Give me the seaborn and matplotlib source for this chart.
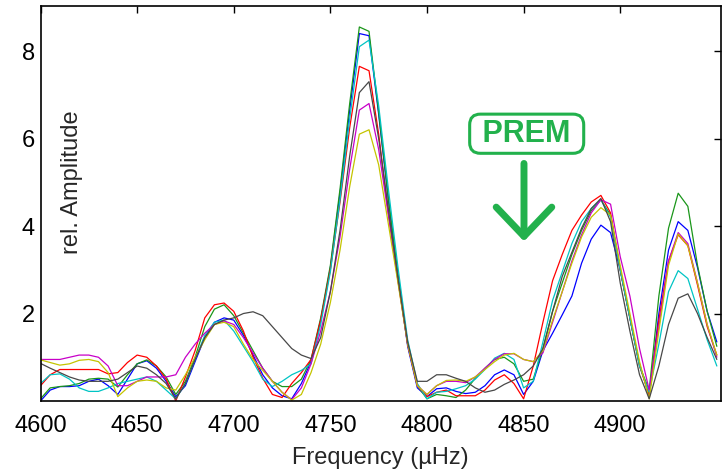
import numpy as np
import pandas as pd
import seaborn as sns
import matplotlib.pyplot as plt

# frequency grid (µHz), 5 µHz steps
freq = np.arange(4600, 4951, 5)

# amplitude spectra, one per model
amp_blue = [0.00, 0.25, 0.33, 0.33, 0.35, 0.45, 0.50, 0.35, 0.15, 0.50,
            0.85, 0.92, 0.75, 0.45, 0.10, 0.35, 0.90, 1.45, 1.80, 1.90,
            1.85, 1.50, 1.05, 0.60, 0.30, 0.12, 0.05, 0.40, 0.90, 1.85,
            3.05, 4.75, 6.65, 8.40, 8.35, 6.55, 4.60, 2.85, 1.25, 0.30,
            0.10, 0.28, 0.30, 0.22, 0.17, 0.20, 0.35, 0.60, 0.71, 0.60,
            0.15, 0.45, 1.15, 1.55, 1.97, 2.40, 3.15, 3.70, 4.02, 3.85,
            3.00, 1.90, 0.85, 0.10, 2.00, 3.45, 4.10, 3.90, 3.05, 2.05,
            1.35]
amp_green = [0.05, 0.30, 0.33, 0.35, 0.40, 0.50, 0.52, 0.50, 0.32, 0.60,
             0.85, 0.94, 0.80, 0.55, 0.15, 0.45, 1.00, 1.70, 2.10, 2.20,
             1.95, 1.55, 1.15, 0.75, 0.45, 0.33, 0.33, 0.50, 0.95, 1.90,
             3.10, 4.85, 6.80, 8.55, 8.45, 6.60, 4.65, 2.90, 1.30, 0.35,
             0.05, 0.15, 0.12, 0.08, 0.25, 0.52, 0.75, 0.95, 1.00, 0.85,
             0.45, 0.50, 1.20, 2.05, 2.70, 3.35, 3.90, 4.35, 4.60, 4.25,
             3.00, 1.90, 0.80, 0.25, 2.40, 3.95, 4.75, 4.45, 3.10, 2.05,
             1.25]
amp_red = [0.35, 0.60, 0.72, 0.72, 0.72, 0.72, 0.72, 0.62, 0.65, 0.88,
           1.05, 1.00, 0.80, 0.50, 0.00, 0.55, 1.15, 1.90, 2.20, 2.24,
           2.05, 1.60, 1.00, 0.52, 0.15, 0.08, 0.40, 0.65, 0.95, 1.85,
           3.00, 4.55, 6.25, 7.65, 7.55, 6.10, 4.30, 2.75, 1.30, 0.35,
           0.10, 0.20, 0.25, 0.12, 0.12, 0.12, 0.25, 0.48, 0.60, 0.40,
           0.05, 0.80, 1.80, 2.75, 3.35, 3.90, 4.25, 4.55, 4.70, 4.30,
           3.00, 1.90, 0.80, 0.15, 1.85, 3.20, 3.80, 3.55, 2.65, 1.70,
           1.05]
amp_cyan = [0.40, 0.60, 0.62, 0.50, 0.30, 0.22, 0.22, 0.30, 0.40, 0.45,
            0.50, 0.55, 0.45, 0.25, 0.05, 0.40, 0.95, 1.50, 1.80, 1.85,
            1.60, 1.25, 0.90, 0.50, 0.33, 0.45, 0.60, 0.70, 0.85, 1.75,
            2.95, 4.60, 6.45, 8.10, 8.25, 6.75, 4.85, 3.05, 1.40, 0.40,
            0.05, 0.20, 0.22, 0.28, 0.35, 0.50, 0.72, 0.98, 1.09, 0.95,
            0.30, 0.45, 1.35, 2.30, 2.95, 3.60, 4.10, 4.40, 4.60, 4.20,
            3.00, 1.90, 0.80, 0.20, 1.30, 2.50, 2.98, 2.80, 2.10, 1.40,
            0.80]
amp_magenta = [0.95, 0.95, 0.95, 1.00, 1.05, 1.05, 1.00, 0.80, 0.35, 0.35,
               0.45, 0.55, 0.55, 0.55, 0.60, 1.00, 1.30, 1.55, 1.75, 1.83,
               1.75, 1.45, 1.10, 0.75, 0.45, 0.20, 0.03, 0.30, 0.85, 1.60,
               2.50, 3.75, 5.30, 6.65, 6.80, 5.75, 4.25, 2.75, 1.30, 0.35,
               0.15, 0.35, 0.45, 0.45, 0.42, 0.55, 0.75, 0.95, 1.08, 1.08,
               0.95, 0.90, 1.10, 1.80, 2.50, 3.20, 3.80, 4.30, 4.60, 4.50,
               3.30, 2.40, 1.20, 0.25, 1.70, 3.20, 3.85, 3.60, 2.70, 1.75,
               1.00]
amp_yellow = [0.94, 0.88, 0.82, 0.85, 0.93, 0.95, 0.90, 0.65, 0.10, 0.30,
              0.45, 0.48, 0.45, 0.30, 0.25, 0.60, 1.00, 1.40, 1.75, 1.80,
              1.70, 1.30, 0.95, 0.70, 0.45, 0.20, 0.02, 0.15, 0.65, 1.30,
              2.25, 3.45, 4.90, 6.10, 6.20, 5.40, 4.05, 2.70, 1.30, 0.35,
              0.15, 0.35, 0.47, 0.48, 0.45, 0.55, 0.72, 0.90, 1.05, 1.09,
              0.95, 0.90, 1.15, 1.85, 2.50, 3.15, 3.75, 4.20, 4.42, 4.25,
              3.10, 2.00, 0.90, 0.05, 1.60, 3.10, 3.82, 3.55, 2.70, 1.75,
              1.05]
amp_gray = [0.86, 0.75, 0.65, 0.55, 0.48, 0.45, 0.45, 0.45, 0.50, 0.65,
            0.80, 0.75, 0.60, 0.40, 0.05, 0.40, 0.95, 1.45, 1.75, 1.85,
            1.90, 2.00, 2.04, 1.95, 1.70, 1.45, 1.20, 1.05, 0.97, 1.45,
            2.50, 3.90, 5.60, 7.05, 7.30, 6.00, 4.40, 2.80, 1.35, 0.45,
            0.45, 0.60, 0.60, 0.52, 0.45, 0.30, 0.20, 0.25, 0.38, 0.48,
            0.60, 0.80, 1.20, 2.05, 2.85, 3.40, 3.95, 4.40, 4.63, 4.10,
            2.70, 1.60, 0.60, 0.05, 0.80, 1.75, 2.35, 2.45, 2.00, 1.45,
            0.95]

series = {"blue": amp_blue, "green": amp_green, "red": amp_red,
          "cyan": amp_cyan, "magenta": amp_magenta, "yellow": amp_yellow,
          "gray": amp_gray}
# matlab-like colour order
colors = {"blue": "#0000ff", "green": "#1a961a", "red": "#ff0000",
          "cyan": "#00c4c4", "magenta": "#c800c8", "yellow": "#c4c400",
          "gray": "#484848"}

df = pd.concat([pd.DataFrame({"freq": freq, "amp": v, "model": k})
                for k, v in series.items()], ignore_index=True)

sns.set_style("white")
plt.rcParams["font.family"] = ["Liberation Sans", "DejaVu Sans"]

fig = plt.figure(figsize=(7.26, 4.71), dpi=100)
ax = fig.add_axes([0.0558, 0.1486, 0.9369, 0.8387])

sns.lineplot(data=df, x="freq", y="amp", hue="model", palette=colors,
             hue_order=list(series.keys()), estimator=None, sort=False,
             linewidth=0.9, legend=False, ax=ax)

ax.set_xlim(4600, 4952)
ax.set_ylim(0, 9.03)
ax.set_xticks([4600, 4650, 4700, 4750, 4800, 4850, 4900])
ax.set_yticks([2, 4, 6, 8])
ax.tick_params(direction="in", length=5, width=1, top=True, right=True,
               labelsize=17, colors="black", pad=10)
ax.tick_params(axis="y", pad=4)
for s in ax.spines.values():
    s.set_color("black")
    s.set_linewidth(1.2)

ax.set_xlabel("Frequency (µHz)", fontsize=17, labelpad=7)
ax.set_ylabel("rel. Amplitude", fontsize=17)
ax.yaxis.set_label_coords(0.063, 0.555)

# PREM marker
green_note = "#22b14c"
ax.text(4851.6, 6.11, " PREM ", fontsize=22, fontweight="bold", color=green_note,
        ha="center", va="center",
        bbox=dict(boxstyle="round,pad=0.15,rounding_size=0.35", fc="white",
                  ec=green_note, lw=2.2))
ax.annotate("", xy=(4850.2, 3.65), xytext=(4850.2, 5.43),
            arrowprops=dict(arrowstyle="->,head_length=1.05,head_width=1.0",
                            mutation_scale=20, lw=5, color=green_note,
                            shrinkA=0, shrinkB=0, capstyle="round",
                            joinstyle="round"))

fig.savefig("out.png", dpi=100)
